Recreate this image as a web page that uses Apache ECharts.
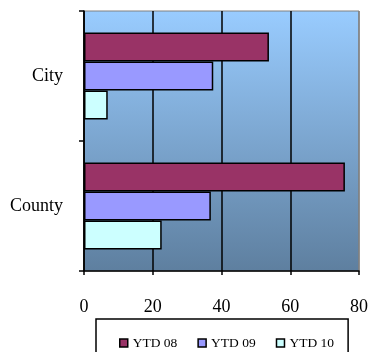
<!DOCTYPE html>
<html>
<head>
<meta charset="utf-8">
<script src="https://cdn.jsdelivr.net/npm/echarts@6/dist/echarts.min.js"></script>
<style>
html,body{margin:0;padding:0;background:#fff;}
#chart{width:372px;height:352px;}
</style>
</head>
<body>
<div id="chart"></div>
<script>
const categories = ['City', 'County'];
const seriesNames = ['YTD 08', 'YTD 09', 'YTD 10'];
const ytd08 = [53.8, 75.9];
const ytd09 = [37.6, 36.9];
const ytd10 = [6.9, 22.6];
const xTicks = [0, 20, 40, 60, 80];
const colors = ['#993366', '#9999FF', '#CCFFFF'];

const chart = echarts.init(document.getElementById('chart'));
const font = 'Liberation Serif';
const values = [ytd08, ytd09, ytd10];

chart.setOption({
  backgroundColor: '#ffffff',
  animation: false,
  grid: {
    left: 84, right: 13, top: 11, bottom: 81,
    show: true,
    borderColor: '#808080',
    borderWidth: 1,
    backgroundColor: new echarts.graphic.LinearGradient(0, 0, 0, 1, [
      { offset: 0, color: '#99CCFF' },
      { offset: 1, color: '#5E7F9F' }
    ])
  },
  legend: {
    data: seriesNames,
    left: 96,
    top: 319,
    orient: 'horizontal',
    icon: 'rect',
    itemWidth: 8,
    itemHeight: 8,
    itemGap: 20,
    padding: [17, 14, 17, 23],
    borderColor: '#000',
    borderWidth: 1.5,
    backgroundColor: '#fff',
    selectedMode: false,
    textStyle: { fontFamily: font, fontSize: 13.5, color: '#000' },
    itemStyle: { borderColor: '#000', borderWidth: 1.5 }
  },
  xAxis: {
    type: 'value',
    min: xTicks[0],
    max: xTicks[xTicks.length - 1],
    interval: 20,
    axisLine: { show: true, lineStyle: { color: '#000', width: 1.5 } },
    axisTick: { show: true, length: 4, lineStyle: { color: '#000', width: 1.5 } },
    axisLabel: { margin: 27, fontFamily: font, fontSize: 18, color: '#000' },
    splitLine: {
      show: true,
      lineStyle: { color: ['#000', '#000', '#000', '#000', '#808080'], width: 1.5 }
    }
  },
  yAxis: {
    type: 'category',
    data: categories,
    inverse: true,
    axisLine: { show: true, lineStyle: { color: '#000', width: 1.5 } },
    axisTick: { show: true, length: 5, alignWithLabel: false, lineStyle: { color: '#000', width: 1.5 } },
    axisLabel: { margin: 21, padding: [5, 0, 0, 0], fontFamily: font, fontSize: 18, color: '#000' },
    splitLine: { show: false }
  },
  series: seriesNames.map((name, i) => ({
    name: name,
    type: 'bar',
    data: values[i],
    barWidth: 29,
    barGap: '0%',
    itemStyle: { color: colors[i], borderColor: '#000', borderWidth: 1.5 }
  }))
});
</script>
</body>
</html>
